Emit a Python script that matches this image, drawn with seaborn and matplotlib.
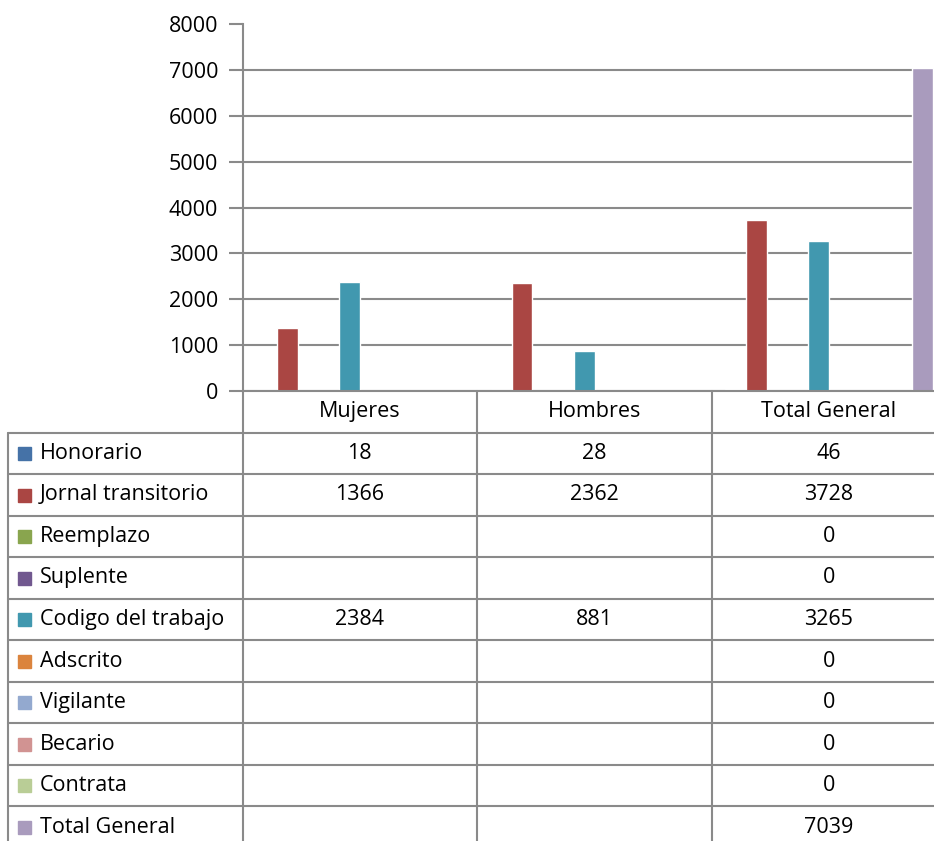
import pandas as pd
import seaborn as sns
import matplotlib.pyplot as plt

# datos
categorias = ["Mujeres", "Hombres", "Total General"]
series = ["Honorario", "Jornal transitorio", "Reemplazo", "Suplente", "Codigo del trabajo",
          "Adscrito", "Vigilante", "Becario", "Contrata", "Total General"]
mujeres = [18, 1366, None, None, 2384, None, None, None, None, None]
hombres = [28, 2362, None, None, 881, None, None, None, None, None]
total_general = [46, 3728, 0, 0, 3265, 0, 0, 0, 0, 7039]
colores = ["#4572A7", "#AA4643", "#89A54E", "#71588F", "#4198AF",
           "#DB843D", "#93A9CF", "#D19392", "#B9CD96", "#A99BBD"]

valores = {"Mujeres": mujeres, "Hombres": hombres, "Total General": total_general}
filas = []
for cat in categorias:
    for s, v in zip(series, valores[cat]):
        if v is not None:
            filas.append({"categoria": cat, "serie": s, "valor": v})
df = pd.DataFrame(filas)

sns.set_style("white")
plt.rcParams["font.family"] = ["Open Sans", "DejaVu Sans"]
plt.rcParams["text.color"] = "black"
plt.rcParams["ytick.color"] = "black"
gris = "#8A8A8A"
W, H = 934, 841
fs = 15.5

fig = plt.figure(figsize=(W / 100, H / 100), dpi=100)
# eje del grafico (se sale un poco por la derecha, como en el original recortado)
ax = fig.add_axes([243 / W, (H - 391) / H, (946 - 243) / W, (391 - 24) / H])
sns.barplot(data=df, x="categoria", y="valor", hue="serie", order=categorias,
            hue_order=series, palette=colores, saturation=1, width=0.885,
            legend=False, ax=ax)
ax.set_xlim(-0.5, 2.5)
ax.set_ylim(0, 8000)
ax.set_yticks(range(0, 8001, 1000))
ax.set_xticks([])
ax.set_xlabel("")
ax.set_ylabel("")
ax.yaxis.grid(True, color=gris, lw=1.5)
ax.yaxis.get_gridlines()[-1].set_visible(False)
ax.set_axisbelow(True)
for lado in ["top", "right", "bottom"]:
    ax.spines[lado].set_visible(False)
ax.spines["left"].set_color(gris)
ax.spines["left"].set_linewidth(1.5)
ax.tick_params(axis="y", which="both", left=True, length=10, width=1.5, color=gris,
               labelsize=fs, labelcolor="black", pad=8)

# tabla de datos debajo
tb = fig.add_axes([8 / W, (H - 848) / H, (946 - 8) / W, (848 - 391) / H])
tb.set_xlim(-1.5, 2.5)
tb.set_ylim(11, 0)
tb.axis("off")
lw = 1.5
tb.plot([-0.5, 2.5], [0, 0], color=gris, lw=lw, clip_on=False)
for r in range(1, 12):
    tb.plot([-1.5, 2.5], [r, r], color=gris, lw=lw, clip_on=False)
tb.plot([-1.5, -1.5], [1, 11], color=gris, lw=lw, clip_on=False)
for xv in [-0.5, 0.5, 1.5, 2.5]:
    tb.plot([xv, xv], [0, 11], color=gris, lw=lw, clip_on=False)

for i, cat in enumerate(categorias):
    tb.text(i, 0.5, cat, ha="center", va="center", fontsize=fs)
for j, (s, c) in enumerate(zip(series, colores)):
    y = j + 1.5
    tb.add_patch(plt.Rectangle((-1.5 + 10 / 234.5, y - 0.15), 13 / 234.5, 0.31,
                               color=c, clip_on=False))
    tb.text(-1.5 + 32 / 234.5, y, s, ha="left", va="center", fontsize=fs)
    for i, cat in enumerate(categorias):
        v = valores[cat][j]
        if v is not None:
            tb.text(i, y, str(v), ha="center", va="center", fontsize=fs)

fig.savefig("out.png", dpi=100)
